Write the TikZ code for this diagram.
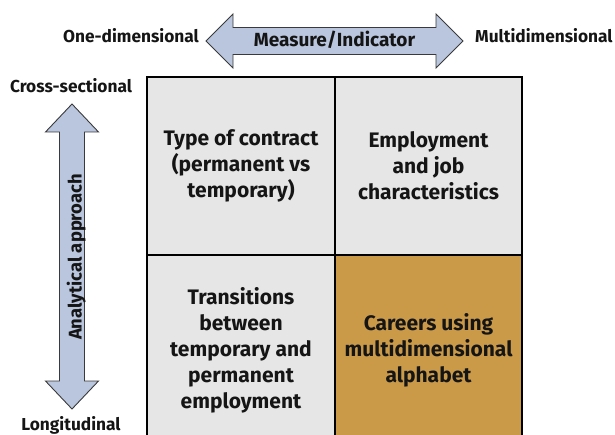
\documentclass[tikz,border=0pt]{standalone}
\usepackage{fontspec}
\setmainfont{Fira Sans}
\definecolor{cellgray}{HTML}{E6E6E6}
\definecolor{cellgold}{HTML}{CA9A48}
\definecolor{arrowfill}{HTML}{B9C6DE}
\definecolor{arrowline}{HTML}{3A3A3A}
\definecolor{ink}{HTML}{151515}
\begin{document}
\begin{tikzpicture}[x=1pt,y=-1pt,
  cell/.style={draw=black, line width=2pt, minimum width=#1, inner sep=0pt,
    align=center, text=ink, font=\bfseries\fontsize{21}{26}\selectfont},
  cell/.default=188pt,
  blockarrow/.style={fill=arrowfill, draw=arrowline, line width=0.9pt, line join=miter},
  axislabel/.style={inner sep=0pt, text=ink, font=\bfseries\fontsize{17.3}{20}\selectfont},
]
\useasboundingbox (0,0) rectangle (615,435);
\clip (0,0) rectangle (615,435);

% quadrant cells
\node[cell=188pt, minimum height=178pt, fill=cellgray] (tl) at (241,166)
  {Type of contract\\(permanent vs\\temporary)};
\node[cell=187pt, minimum height=178pt, fill=cellgray] (tr) at (428.5,166)
  {Employment\\and job\\characteristics};
\node[cell=188pt, minimum height=190pt, fill=cellgray] (bl) at (241,350)
  {Transitions\\between\\temporary and\\permanent\\employment};
\node[cell=187pt, minimum height=190pt, fill=cellgold] (br) at (428.5,350)
  {Careers using\\multidimensional\\alphabet};

% horizontal axis: measure / indicator
\draw[blockarrow] (206,41) -- (233,14) -- (233,27.5) -- (436,27.5) -- (436,14)
  -- (463,41) -- (436,68) -- (436,54.5) -- (233,54.5) -- (233,68) -- cycle;
\node[axislabel, anchor=base, font=\bfseries\fontsize{19}{20}\selectfont] (measure)
  at (334.5,47) {Measure/Indicator};
\node[axislabel, anchor=base east] (onedim) at (199,43) {One-dimensional};
\node[axislabel, anchor=base west] (multidim) at (475,43) {Multidimensional};

% vertical axis: analytical approach
\draw[blockarrow] (72,104) -- (98.5,132) -- (84.5,132) -- (84.5,381) -- (98.5,381)
  -- (72,409) -- (45.5,381) -- (59.5,381) -- (59.5,132) -- (45.5,132) -- cycle;
\node[axislabel, rotate=90, anchor=base, font=\bfseries\fontsize{18.4}{20}\selectfont]
  (approach) at (81.5,257) {Analytical approach};
\node[axislabel, anchor=base] (cross) at (71,93) {Cross-sectional};
\node[axislabel, anchor=base] (longit) at (71,430) {Longitudinal};
\end{tikzpicture}
\end{document}
